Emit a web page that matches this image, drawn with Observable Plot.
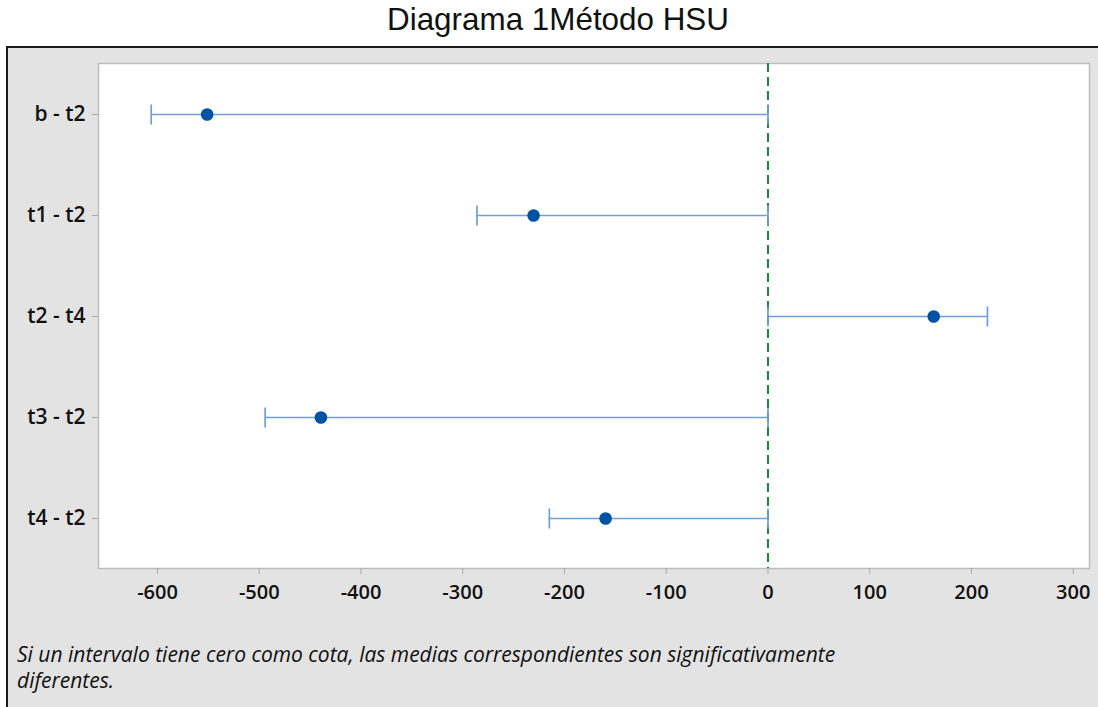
<!DOCTYPE html>
<html>
<head>
<meta charset="utf-8">
<script src="https://cdn.jsdelivr.net/npm/d3@7"></script>
<script src="https://cdn.jsdelivr.net/npm/@observablehq/plot@0.6"></script>
<style>
  html, body { margin: 0; padding: 0; background: #ffffff; width: 1098px; height: 707px; overflow: hidden; position: relative; }
  #title { position: absolute; left: 0; top: 5px; width: 1116px; text-align: center; font-family: "Liberation Sans", Arial, sans-serif; font-size: 31.4px; line-height: 30px; color: #111; white-space: nowrap; }
  #panel { position: absolute; left: 6px; top: 46px; width: 1092px; height: 661px; box-sizing: border-box; background: #e3e3e3; border-left: 2px solid #1a1a1a; border-top: 2px solid #1a1a1a; }
  #chart { position: absolute; left: 8px; top: 48px; }
  .cap { position: absolute; left: 17px; font-family: "Open Sans", "Noto Sans", sans-serif; font-style: italic; font-size: 21px; line-height: 24px; height: 24px; color: #111; white-space: nowrap; }
  #cap1 { top: 642px; }
  #cap2 { top: 668px; }
</style>
</head>
<body>
<div id="title">Diagrama 1Método HSU</div>
<div id="panel"></div>
<div id="chart"></div>
<div class="cap" id="cap1">Si un intervalo tiene cero como cota, las medias correspondientes son significativamente</div>
<div class="cap" id="cap2">diferentes.</div>
<script>
const comparisons = ["b - t2", "t1 - t2", "t2 - t4", "t3 - t2", "t4 - t2"];
const centers = [-551.2, -230.4, 162.9, -439.4, -159.6];
const lowers = [-606.2, -286.0, 0, -494.2, -214.9];
const uppers = [0, 0, 215.7, 0, 0];
const xTicks = [-600, -500, -400, -300, -200, -100, 0, 100, 200, 300];
const refLine = [0];

const rows = comparisons.map((c, i) => ({comp: c, mid: centers[i], lo: lowers[i], hi: uppers[i]}));

const barColor = "#6f9fd6";
const dotColor = "#0052a5";

// vertical cap symbol for the interval ends
const capSymbol = {
  draw(context) {
    context.moveTo(0, -10);
    context.lineTo(0, 10);
  }
};

const chart = Plot.plot({
  width: 1090,
  height: 562,
  marginLeft: 90,
  marginRight: 9,
  marginTop: 15,
  marginBottom: 42,
  style: {
    background: "#e3e3e3",
    fontFamily: "'Open Sans', 'Noto Sans', sans-serif",
    fontSize: "20px",
    fontWeight: 600,
    color: "#111"
  },
  x: {domain: [-658, 316], label: null},
  y: {domain: comparisons, type: "point", padding: 0.5, label: null},
  marks: [
    Plot.frame({fill: "white", stroke: "#bdbdbd", strokeWidth: 1.5}),
    Plot.axisX({ticks: xTicks, tickFormat: d => `${d}`, tickSize: 6, tickPadding: 10, stroke: "#aaaaaa", label: null}),
    Plot.axisY({tickSize: 6, tickPadding: 7, stroke: "#aaaaaa", label: null, fontSize: 21}),
    Plot.ruleX(refLine, {stroke: "#1a8a3a", strokeWidth: 2, strokeDasharray: "9,5"}),
    Plot.ruleY(rows, {y: "comp", x1: "lo", x2: "hi", stroke: barColor, strokeWidth: 1.7}),
    Plot.dot(rows, {x: "lo", y: "comp", symbol: capSymbol, fill: "none", stroke: barColor, strokeWidth: 1.7}),
    Plot.dot(rows, {x: "hi", y: "comp", symbol: capSymbol, fill: "none", stroke: barColor, strokeWidth: 1.7}),
    Plot.dot(rows, {x: "mid", y: "comp", r: 6.3, fill: dotColor, stroke: "none"})
  ]
});
document.getElementById("chart").appendChild(chart);
</script>
</body>
</html>
